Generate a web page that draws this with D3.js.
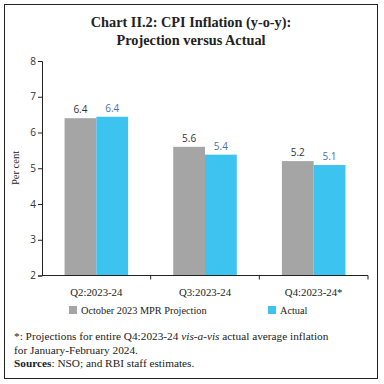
<!DOCTYPE html>
<html>
<head>
<meta charset="utf-8">
<script src="https://cdn.jsdelivr.net/npm/d3@7"></script>
<style>
  body { margin: 0; background: #fff; }
  svg { display: block; }
</style>
</head>
<body>
<div id="root"></div>
<script>
let quarters = ['Q2:2023-24', 'Q3:2023-24', 'Q4:2023-24*'];
let projection = [6.4, 5.6, 5.2];
let actual = [6.44, 5.38, 5.09];
let actualLabels = ['6.4', '5.4', '5.1'];
let projectionLabels = ['6.4', '5.6', '5.2'];
let yTicks = [2, 3, 4, 5, 6, 7, 8];
let seriesNames = ['October 2023 MPR Projection', 'Actual'];

let grey = '#a5a5a5';
let blue = '#3cc3ef';
let serif = '"Liberation Serif", "DejaVu Serif", serif';
let sans = '"Open Sans", "DejaVu Sans", sans-serif';

let svg = d3.select('#root').append('svg')
    .attr('width', 384)
    .attr('height', 384);

// frame
svg.append('rect')
    .attr('x', 4.5).attr('y', 4.5)
    .attr('width', 373).attr('height', 374)
    .attr('fill', 'none').attr('stroke', '#222').attr('stroke-width', 1);

// title
svg.append('text')
    .attr('x', 191).attr('y', 27)
    .attr('text-anchor', 'middle')
    .attr('font-family', serif).attr('font-weight', 'bold')
    .attr('font-size', 14.3).attr('fill', '#222')
    .text('Chart II.2: CPI Inflation (y-o-y):');
svg.append('text')
    .attr('x', 191).attr('y', 45)
    .attr('text-anchor', 'middle')
    .attr('font-family', serif).attr('font-weight', 'bold')
    .attr('font-size', 14.3).attr('fill', '#222')
    .text('Projection versus Actual');

let x = d3.scaleBand()
    .domain(quarters)
    .range([42, 368])
    .paddingInner(0)
    .paddingOuter(0);

let sub = d3.scaleBand()
    .domain([0, 1])
    .range([0, x.bandwidth()])
    .paddingOuter(0.71)
    .paddingInner(0);

let y = d3.scaleLinear()
    .domain([2, 8])
    .range([275.5, 61]);

// y axis
let yAxis = svg.append('g')
    .attr('transform', 'translate(42,0)')
    .call(d3.axisLeft(y).tickValues(yTicks).tickSize(4).tickFormat(d3.format('d')));
yAxis.select('.domain').attr('stroke', '#222');
yAxis.selectAll('.tick line').attr('stroke', '#222');
yAxis.selectAll('.tick text')
    .attr('font-family', sans).attr('font-size', 10).attr('fill', '#333').attr('x', -6);

svg.append('text')
    .attr('transform', 'translate(19,168) rotate(-90)')
    .attr('text-anchor', 'middle')
    .attr('font-family', serif).attr('font-size', 10.5).attr('fill', '#222')
    .text('Per cent');

// bars
let groups = svg.append('g').selectAll('g')
    .data(quarters)
    .join('g')
    .attr('transform', d => `translate(${x(d)},0)`);

groups.append('rect')
    .attr('x', sub(0))
    .attr('width', sub.bandwidth())
    .attr('y', (d, i) => y(projection[i]))
    .attr('height', (d, i) => y(2) - y(projection[i]))
    .attr('fill', grey);

groups.append('rect')
    .attr('x', sub(1))
    .attr('width', sub.bandwidth())
    .attr('y', (d, i) => y(actual[i]))
    .attr('height', (d, i) => y(2) - y(actual[i]))
    .attr('fill', blue);

groups.append('text')
    .attr('x', sub(0) + sub.bandwidth() / 2)
    .attr('y', (d, i) => y(projection[i]) - 5)
    .attr('text-anchor', 'middle')
    .attr('font-family', sans).attr('font-size', 10).attr('fill', '#333')
    .text((d, i) => projectionLabels[i]);

groups.append('text')
    .attr('x', sub(1) + sub.bandwidth() / 2)
    .attr('y', (d, i) => y(actual[i]) - 5)
    .attr('text-anchor', 'middle')
    .attr('font-family', sans).attr('font-size', 10).attr('fill', '#4a6fa8')
    .text((d, i) => actualLabels[i]);

// x axis
let xAxis = svg.append('g')
    .attr('transform', `translate(0,${y(2)})`);
xAxis.append('line')
    .attr('x1', 42).attr('x2', 368)
    .attr('stroke', '#222');
xAxis.selectAll('.tk')
    .data(quarters)
    .join('line')
    .attr('class', 'tk')
    .attr('x1', d => x(d) + x.bandwidth()).attr('x2', d => x(d) + x.bandwidth())
    .attr('y1', 0).attr('y2', 4)
    .attr('stroke', '#222');
xAxis.selectAll('text')
    .data(quarters)
    .join('text')
    .attr('x', d => x(d) + x.bandwidth() / 2)
    .attr('y', 20)
    .attr('text-anchor', 'middle')
    .attr('font-family', serif).attr('font-size', 10.8).attr('fill', '#222')
    .text(d => d);

// legend
let legendX = [69, 268];
let legend = svg.append('g').selectAll('g')
    .data(seriesNames)
    .join('g')
    .attr('transform', (d, i) => `translate(${legendX[i]},306)`);
legend.append('rect')
    .attr('width', 8).attr('height', 8)
    .attr('fill', (d, i) => i === 0 ? grey : blue);
legend.append('text')
    .attr('x', 12).attr('y', 7.5)
    .attr('font-family', serif).attr('font-size', 10.3).attr('fill', '#222')
    .text(d => d);

// footnote
let note = svg.append('g')
    .attr('font-family', serif).attr('font-size', 11.3).attr('fill', '#222');
let line1 = note.append('text').attr('x', 14).attr('y', 340);
line1.append('tspan').text('*: Projections for entire Q4:2023-24 ');
line1.append('tspan').attr('font-style', 'italic').text('vis-a-vis');
line1.append('tspan').text(' actual average inflation');
note.append('text').attr('x', 14).attr('y', 354)
    .text('for January-February 2024.');
let line3 = note.append('text').attr('x', 14).attr('y', 367);
line3.append('tspan').attr('font-weight', 'bold').text('Sources');
line3.append('tspan').text(': NSO; and RBI staff estimates.');
</script>
</body>
</html>
